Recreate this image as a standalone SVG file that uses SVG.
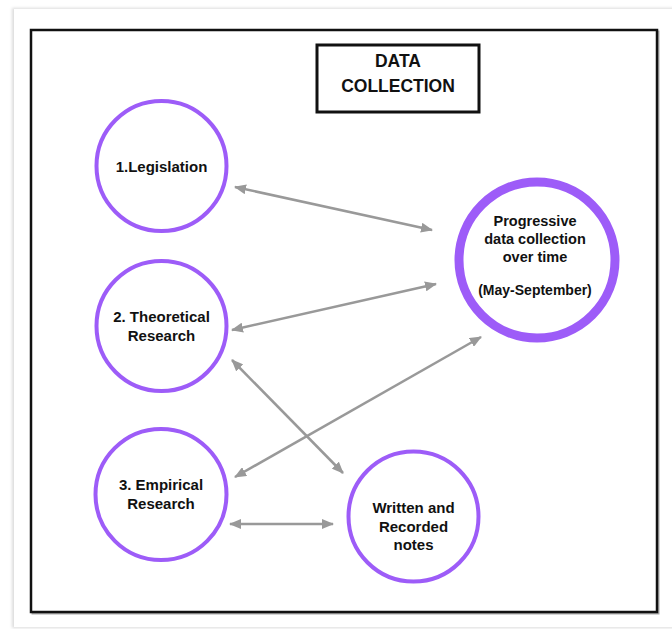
<svg xmlns="http://www.w3.org/2000/svg" width="672" height="629" viewBox="0 0 672 629">
<defs>
<style>
.node circle{fill:#ffffff;stroke:#9d5cf8;stroke-width:4}
.t{font-family:"Liberation Sans",Arial,sans-serif;font-weight:bold;fill:#111111;text-anchor:middle}
.conn line{stroke:#999999;stroke-width:2.5;marker-start:url(#ah);marker-end:url(#ah)}
</style>
<marker id="ah" viewBox="0 0 12 10" refX="11" refY="5" markerWidth="12" markerHeight="10" markerUnits="userSpaceOnUse" orient="auto-start-reverse">
<path d="M0,0 L12,5 L0,10 z" fill="#999999"/>
</marker>
<filter id="blur" x="-5%" y="-5%" width="110%" height="110%"><feGaussianBlur stdDeviation="1.5"/></filter>
</defs>
<rect x="0" y="0" width="672" height="629" fill="#ffffff"/>
<rect x="12" y="8" width="670" height="620" fill="#dcdcdc" filter="url(#blur)"/>
<rect x="14" y="9" width="670" height="618" fill="#ffffff"/>
<rect x="32.5" y="31.5" width="626" height="582" fill="none" stroke="#aaaaaa" stroke-width="2"/>
<rect x="31" y="30" width="626" height="582" fill="#ffffff" stroke="#111111" stroke-width="2.5"/>
<g id="title">
<rect x="317" y="45" width="162" height="67" fill="#ffffff" stroke="#111111" stroke-width="3"/>
<text class="t" x="398" y="67" font-size="17.5">DATA</text>
<text class="t" x="398" y="92" font-size="17.5">COLLECTION</text>
</g>
<g class="conn" id="connectors">
<line x1="235" y1="187" x2="432" y2="230"/>
<line x1="232" y1="330" x2="436" y2="284"/>
<line x1="232" y1="360" x2="343" y2="473"/>
<line x1="235" y1="477" x2="481" y2="337"/>
<line x1="230" y1="524" x2="333" y2="524"/>
</g>
<g class="node" id="legislation">
<circle cx="161.5" cy="166" r="65"/>
<text class="t" x="161.5" y="172" font-size="15">1.Legislation</text>
</g>
<g class="node" id="theoretical">
<circle cx="161.5" cy="326" r="65"/>
<text class="t" x="161.5" y="322" font-size="15">2. Theoretical</text>
<text class="t" x="161.5" y="341" font-size="15">Research</text>
</g>
<g class="node" id="empirical">
<circle cx="161" cy="494.5" r="65.5"/>
<text class="t" x="161" y="490" font-size="15">3. Empirical</text>
<text class="t" x="161" y="509" font-size="15">Research</text>
</g>
<g class="node" id="notes">
<circle cx="413.5" cy="516.5" r="65"/>
<text class="t" x="413.5" y="513" font-size="15">Written and</text>
<text class="t" x="413.5" y="532" font-size="15">Recorded</text>
<text class="t" x="413.5" y="550" font-size="15">notes</text>
</g>
<g class="node" id="progressive">
<circle cx="537" cy="260" r="78" style="stroke-width:9"/>
<text class="t" x="535" y="226" font-size="14.5">Progressive</text>
<text class="t" x="535" y="244" font-size="14.5">data collection</text>
<text class="t" x="535" y="262" font-size="14.5">over time</text>
<text class="t" x="535" y="295" font-size="14">(May-September)</text>
</g>
</svg>
